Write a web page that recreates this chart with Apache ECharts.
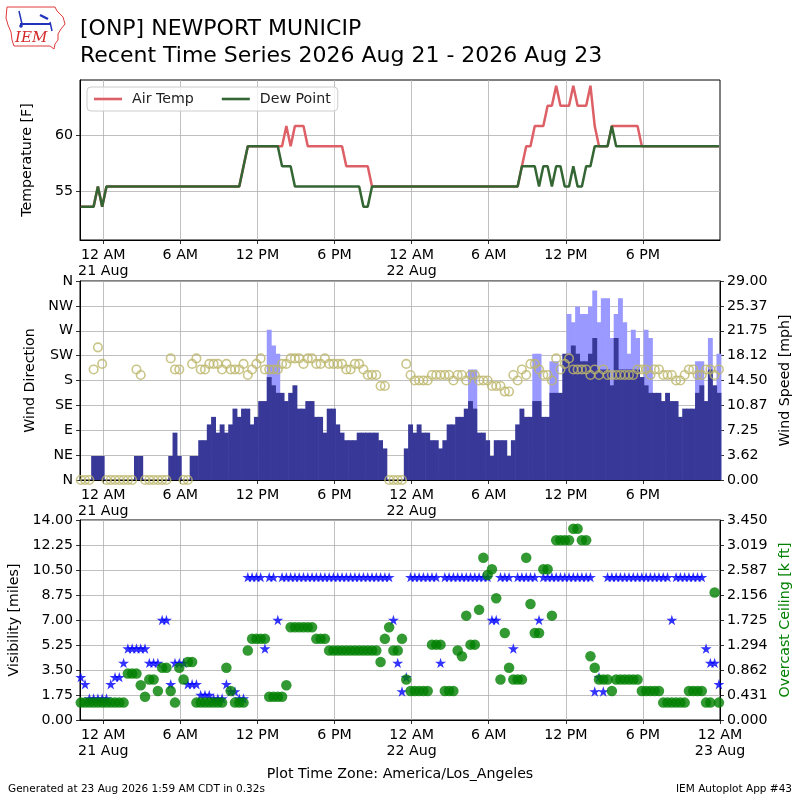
<!DOCTYPE html>
<html>
<head>
<meta charset="utf-8">
<script src="https://cdn.jsdelivr.net/npm/echarts@6/dist/echarts.min.js"></script>
<style>
  html, body { margin: 0; padding: 0; background: #fff; }
  #chart { width: 800px; height: 800px; }
</style>
</head>
<body>
<div id="chart"></div>
<script>
// obs every 20 minutes starting 20 Aug 22:15 (hours relative to 21 Aug 00:00)
const obsStart = -1.75;
const obsStep = 1 / 3;

const tempF = [
  53.6, 53.6, 53.6, 53.6, 55.4, 53.6, 55.4, 55.4, 55.4, 55.4,
  55.4, 55.4, 55.4, 55.4, 55.4, 55.4, 55.4, 55.4, 55.4, 55.4,
  55.4, 55.4, 55.4, 55.4, 55.4, 55.4, 55.4, 55.4, 55.4, 55.4,
  55.4, 55.4, 55.4, 55.4, 55.4, 55.4, 55.4, 55.4, 57.2, 59,
  59, 59, 59, 59, 59, 59, 59, 59, 60.8, 59,
  60.8, 60.8, 60.8, 59, 59, 59, 59, 59, 59, 59,
  59, 59, 57.2, 57.2, 57.2, 57.2, 57.2, 57.2, 55.4, 55.4,
  55.4, 55.4, 55.4, 55.4, 55.4, 55.4, 55.4, 55.4, 55.4, 55.4,
  55.4, 55.4, 55.4, 55.4, 55.4, 55.4, 55.4, 55.4, 55.4, 55.4,
  55.4, 55.4, 55.4, 55.4, 55.4, 55.4, 55.4, 55.4, 55.4, 55.4,
  55.4, 55.4, 55.4, 57.2, 59, 59, 60.8, 60.8, 60.8, 62.6,
  62.6, 64.4, 62.6, 62.6, 62.6, 64.4, 62.6, 62.6, 62.6, 64.4,
  60.8, 59, 59, 59, 60.8, 60.8, 60.8, 60.8, 60.8, 60.8,
  60.8, 59, 59, 59, 59, 59, 59, 59, 59, 59,
  59, 59, 59, 59, 59, 59, 59, 59, 59, 59
];
const dewF = [
  53.6, 53.6, 53.6, 53.6, 55.4, 53.6, 55.4, 55.4, 55.4, 55.4,
  55.4, 55.4, 55.4, 55.4, 55.4, 55.4, 55.4, 55.4, 55.4, 55.4,
  55.4, 55.4, 55.4, 55.4, 55.4, 55.4, 55.4, 55.4, 55.4, 55.4,
  55.4, 55.4, 55.4, 55.4, 55.4, 55.4, 55.4, 55.4, 57.2, 59,
  59, 59, 59, 59, 59, 59, 59, 57.2, 57.2, 57.2,
  55.4, 55.4, 55.4, 55.4, 55.4, 55.4, 55.4, 55.4, 55.4, 55.4,
  55.4, 55.4, 55.4, 55.4, 55.4, 55.4, 53.6, 53.6, 55.4, 55.4,
  55.4, 55.4, 55.4, 55.4, 55.4, 55.4, 55.4, 55.4, 55.4, 55.4,
  55.4, 55.4, 55.4, 55.4, 55.4, 55.4, 55.4, 55.4, 55.4, 55.4,
  55.4, 55.4, 55.4, 55.4, 55.4, 55.4, 55.4, 55.4, 55.4, 55.4,
  55.4, 55.4, 55.4, 57.2, 57.2, 57.2, 57.2, 55.4, 57.2, 57.2,
  55.4, 57.2, 57.2, 55.4, 55.4, 57.2, 55.4, 55.4, 57.2, 57.2,
  59, 59, 59, 59, 60.8, 59, 59, 59, 59, 59,
  59, 59, 59, 59, 59, 59, 59, 59, 59, 59,
  59, 59, 59, 59, 59, 59, 59, 59, 59, 59
];
const windDir = [
  0, 0, 0, 200, 240, 210, 0, 0, 0, 0,
  0, 0, 0, 200, 190, 0, 0, 0, 0, 0,
  0, 220, 200, 200, 0, 0, 210, 220, 200, 200,
  210, 210, 210, 200, 210, 200, 200, 200, 210, 190,
  200, 210, 220, 200, 200, 200, 200, 210, 210, 220,
  220, 220, 210, 220, 220, 210, 210, 220, 210, 210,
  210, 210, 200, 200, 210, 210, 200, 190, 190, 190,
  170, 170, 0, 0, 0, 0, 210, 190, 180, 180,
  180, 180, 190, 190, 190, 190, 190, 180, 190, 190,
  180, 190, 190, 180, 180, 180, 170, 170, 170, 160,
  160, 190, 180, 200, 190, 210, 210, 200, 190, 190,
  180, 220, 200, 210, 220, 200, 200, 200, 200, 190,
  200, 190, 200, 190, 190, 190, 190, 190, 190, 190,
  200, 200, 200, 190, 200, 200, 190, 190, 190, 180,
  180, 190, 200, 200, 190, 190, 200, 200, 190, 200
];
const windMph = [
  0, 0, 0, 3.5, 3.5, 3.5, 0, 0, 0, 0,
  0, 0, 0, 3.5, 3.5, 0, 0, 0, 0, 0,
  0, 3.5, 6.9, 3.5, 0, 0, 3.5, 3.5, 5.8, 5.8,
  8.1, 9.2, 6.9, 8.1, 6.9, 8.1, 10.4, 9.2, 10.4, 10.4,
  8.1, 9.2, 11.5, 11.5, 15.0, 13.8, 12.7, 12.7, 11.5, 12.7,
  13.8, 10.4, 10.4, 11.5, 11.5, 9.2, 9.2, 6.9, 10.4, 10.4,
  8.1, 6.9, 5.8, 5.8, 5.8, 6.9, 6.9, 6.9, 6.9, 6.9,
  5.8, 4.6, 0, 0, 0, 0, 4.6, 8.1, 6.9, 8.1,
  6.9, 6.9, 5.8, 5.8, 4.6, 5.8, 8.1, 8.1, 9.2, 9.2,
  10.4, 11.5, 10.4, 6.9, 6.9, 5.8, 3.5, 5.8, 5.8, 5.8,
  3.5, 5.8, 8.1, 10.4, 9.2, 9.2, 11.5, 11.5, 9.2, 9.2,
  12.7, 12.7, 12.7, 18.4, 18.4, 19.6, 18.4, 17.3, 17.3, 18.4,
  20.7, 16.1, 16.1, 16.1, 13.8, 20.7, 16.1, 16.1, 16.1, 16.1,
  16.1, 15.0, 13.8, 12.7, 12.7, 12.7, 11.5, 12.7, 11.5, 11.5,
  9.2, 10.4, 10.4, 10.4, 12.7, 13.8, 11.5, 16.1, 13.8, 12.7
];
const gustMph = [
  null, null, null, null, null, null, null, null, null, null,
  null, null, null, null, null, null, null, null, null, null,
  null, null, null, null, null, null, null, null, null, null,
  null, null, null, null, null, null, null, null, null, null,
  null, null, null, null, 21.9, 19.6, 18.4, null, null, null,
  null, null, null, null, null, null, null, null, null, null,
  null, null, null, null, null, null, null, null, null, null,
  null, null, null, null, null, null, null, null, null, null,
  null, null, null, null, null, null, null, null, null, null,
  null, 16.1, 16.1, null, null, null, null, null, null, null,
  null, null, null, null, null, null, 18.4, 18.4, null, null,
  17.3, 17.3, null, null, 24.2, 23.0, 25.3, 24.2, 24.2, 25.3,
  27.6, 23.0, 26.5, 26.5, 20.7, 24.2, 26.5, 23.0, 18.4, 21.9,
  20.7, null, 21.9, 20.7, null, null, null, null, null, null,
  null, null, null, null, 17.3, 17.3, null, 20.7, null, 18.4
];
const visMiles = [
  3, 2.5, 1.5, 1.5, 1.5, 1.5, 1.5, 2.5, 3, 3,
  4, 5, 5, 5, 5, 5, 4, 4, 4, 7,
  7, 2.5, 4, 4, 4, 2.5, 2.5, 2.5, 1.75, 1.75,
  1.75, 1.5, 1.5, 1.5, 2.5, 2, 2, 1.5, 1.5, 10,
  10, 10, 10, 5, 10, 10, 7, 10, 10, 10,
  10, 10, 10, 10, 10, 10, 10, 10, 10, 10,
  10, 10, 10, 10, 10, 10, 10, 10, 10, 10,
  10, 10, 10, 7, 4, 2, 3, 10, 10, 10,
  10, 10, 10, 10, 4, 10, 10, 10, 10, 10,
  10, 10, 10, 10, 10, 10, 7, 7, 10, 10,
  10, 5, 10, 10, 10, 10, 10, 7, 10, 10,
  10, 10, 10, 10, 10, 10, 10, 10, 10, 10,
  2, 3, 2, 10, 10, 10, 10, 10, 10, 10,
  10, 10, 10, 10, 10, 10, 10, 10, 7, 10,
  10, 10, 10, 10, 10, 10, 5, 4, 4, 2.5
];
const ceilingKft = [
  0.3, 0.3, 0.3, 0.3, 0.3, 0.3, 0.3, 0.3, 0.3, 0.3,
  0.3, 0.8, 0.8, 0.8, 0.6, 0.4, 0.7, 0.7, 0.5, 0.9,
  0.9, 0.5, 0.3, 0.9, 0.7, 1.0, 1.0, 0.3, 0.3, 0.3,
  0.3, 0.3, 0.3, 0.3, 0.9, 0.5, 0.3, 0.3, 0.3, 1.2,
  1.4, 1.4, 1.4, 1.4, 0.4, 0.4, 0.4, 0.4, 0.6, 1.6,
  1.6, 1.6, 1.6, 1.6, 1.6, 1.4, 1.4, 1.4, 1.2, 1.2,
  1.2, 1.2, 1.2, 1.2, 1.2, 1.2, 1.2, 1.2, 1.2, 1.2,
  1.0, 1.4, 1.6, 1.2, 1.2, 1.4, 0.7, 0.5, 0.5, 0.5,
  0.5, 0.5, 1.3, 1.3, 1.3, 0.5, 0.5, 0.5, 1.2, 1.1,
  1.8, 1.3, 1.3, 1.9, 2.8, 2.5, 2.6, 2.1, 0.7, 1.5,
  0.9, 0.7, 0.7, 0.7, 2.8, 2.0, 1.5, 1.5, 2.6, 2.6,
  1.8, 3.1, 3.1, 3.1, 3.1, 3.3, 3.3, 3.1, 3.1, 1.1,
  0.9, 0.7, 0.7, 0.7, 0.5, 0.7, 0.7, 0.7, 0.7, 0.7,
  0.7, 0.5, 0.5, 0.5, 0.5, 0.5, 0.3, 0.3, 0.3, 0.3,
  0.3, 0.3, 0.5, 0.5, 0.5, 0.5, 0.3, 0.3, 2.2, 0.3
];

const hourTicks = [0, 6, 12, 18, 24, 30, 36, 42, 48];
const hourLabels = ['12 AM\n21 Aug', '6 AM', '12 PM', '6 PM', '12 AM\n22 Aug', '6 AM', '12 PM', '6 PM', '12 AM\n23 Aug'];
const tempTicks = [55, 60];
const dirLabels = ['N', 'NE', 'E', 'SE', 'S', 'SW', 'W', 'NW', 'N'];
const speedLabels = ['0.00', '3.62', '7.25', '10.87', '14.50', '18.12', '21.75', '25.37', '29.00'];
const ceilingLabels = ['0.000', '0.431', '0.862', '1.294', '1.725', '2.156', '2.587', '3.019', '3.450'];

const obsHours = [];
for (let i = 0; i < windMph.length; i++) obsHours.push(obsStart + i * obsStep);
const pair = vals => vals.map((v, i) => [obsHours[i], v == null ? '-' : v]);

const chart = echarts.init(document.getElementById('chart'));

const font = 'DejaVu Sans';
const fs = 14.2;
const gridLine = { show: true, lineStyle: { color: '#b0b0b0', width: 0.8 } };
const tickStyle = { show: true, inside: false, length: 4, lineStyle: { color: '#000', width: 0.8 } };
const blackLine = { show: true, onZero: false, lineStyle: { color: '#000', width: 1 } };
const labelStyle = { color: '#000', fontSize: fs, fontFamily: font };
const nameStyle = { color: '#000', fontSize: fs, fontFamily: font };

const hourFmt = v => hourLabels[hourTicks.indexOf(Math.round(v))] || '';

function timeAxis(gridIndex, ticks) {
  return {
    type: 'value', gridIndex: gridIndex, min: -1.81, max: 48.0,
    axisLine: blackLine,
    axisTick: Object.assign({}, tickStyle, { customValues: ticks }),
    axisLabel: Object.assign({}, labelStyle, { customValues: ticks, formatter: hourFmt, margin: 7, lineHeight: 16 }),
    splitLine: gridLine
  };
}

const grids = [
  { left: 80, top: 80, width: 640, height: 160 },
  { left: 80, top: 281, width: 640, height: 199 },
  { left: 80, top: 520, width: 640, height: 200 }
].map(g => Object.assign(g, { show: true, borderColor: '#000', borderWidth: 1, containLabel: false, outerBoundsMode: 'none' }));

const starPath = 'path://M50,0 L61,35 L98,35 L68,57 L79,91 L50,70 L21,91 L32,57 L2,35 L39,35 Z';

const options = {
  animation: false,
  textStyle: { fontFamily: font },
  grid: grids,
  legend: {
    data: ['Air Temp', 'Dew Point'],
    left: 87, top: 87,
    orient: 'horizontal',
    icon: 'rect',
    itemWidth: 28, itemHeight: 2.6, itemGap: 28,
    padding: [5, 7],
    borderColor: '#cccccc', borderWidth: 1, borderRadius: 4,
    backgroundColor: 'rgba(255,255,255,0.8)',
    textStyle: { color: '#222', fontSize: fs, fontFamily: font, padding: [0, 0, 0, 5] }
  },
  xAxis: [
    timeAxis(0, hourTicks.slice(0, 8)),
    timeAxis(1, hourTicks.slice(0, 8)),
    timeAxis(2, hourTicks)
  ],
  yAxis: [
    {
      type: 'value', gridIndex: 0, min: 50.62, max: 64.91,
      name: 'Temperature [F]', nameLocation: 'middle', nameGap: 46, nameTextStyle: nameStyle,
      axisLine: blackLine,
      axisTick: Object.assign({}, tickStyle, { customValues: tempTicks }),
      axisLabel: Object.assign({}, labelStyle, { customValues: tempTicks, margin: 7 }),
      splitLine: gridLine
    },
    {
      type: 'value', gridIndex: 1, min: 0, max: 360, interval: 45,
      name: 'Wind Direction', nameLocation: 'middle', nameGap: 40, nameTextStyle: nameStyle,
      axisLine: blackLine, axisTick: tickStyle,
      axisLabel: Object.assign({}, labelStyle, { margin: 7, formatter: v => dirLabels[Math.round(v / 45)] }),
      splitLine: gridLine
    },
    {
      type: 'value', gridIndex: 1, position: 'right', min: 0, max: 29, interval: 3.625,
      name: 'Wind Speed [mph]', nameLocation: 'middle', nameGap: 55, nameTextStyle: nameStyle,
      axisLine: blackLine, axisTick: tickStyle,
      axisLabel: Object.assign({}, labelStyle, { margin: 7, formatter: v => speedLabels[Math.round(v / 3.625)] }),
      splitLine: { show: false }
    },
    {
      type: 'value', gridIndex: 2, min: 0, max: 14, interval: 1.75,
      name: 'Visibility [miles]', nameLocation: 'middle', nameGap: 55, nameTextStyle: nameStyle,
      axisLine: blackLine, axisTick: tickStyle,
      axisLabel: Object.assign({}, labelStyle, { margin: 7, formatter: v => v.toFixed(2) }),
      splitLine: gridLine
    },
    {
      type: 'value', gridIndex: 2, position: 'right', min: 0, max: 3.45, interval: 0.43125,
      name: 'Overcast Ceiling [k ft]', nameLocation: 'middle', nameGap: 55,
      nameTextStyle: Object.assign({}, nameStyle, { color: '#008000' }),
      axisLine: blackLine, axisTick: tickStyle,
      axisLabel: Object.assign({}, labelStyle, { margin: 7, formatter: v => ceilingLabels[Math.round(v / 0.43125)] }),
      splitLine: { show: false }
    }
  ],
  series: [
    {
      name: 'Air Temp', type: 'line', xAxisIndex: 0, yAxisIndex: 0,
      data: pair(tempF), symbol: 'none', z: 3,
      lineStyle: { color: '#dd6066', width: 2.5 }, itemStyle: { color: '#dd6066' }
    },
    {
      name: 'Dew Point', type: 'line', xAxisIndex: 0, yAxisIndex: 0,
      data: pair(dewF), symbol: 'none', z: 4,
      lineStyle: { color: '#346634', width: 2.5 }, itemStyle: { color: '#346634' }
    },
    {
      name: 'Gust', type: 'bar', xAxisIndex: 1, yAxisIndex: 2,
      data: pair(gustMph), barWidth: 4.9, barGap: '-100%', z: 2,
      itemStyle: { color: '#9999ff' }
    },
    {
      name: 'Wind', type: 'bar', xAxisIndex: 1, yAxisIndex: 2,
      data: pair(windMph), barWidth: 4.9, barGap: '-100%', z: 3,
      itemStyle: { color: '#383898' }
    },
    {
      name: 'Direction', type: 'scatter', xAxisIndex: 1, yAxisIndex: 1,
      data: pair(windDir), symbol: 'circle', symbolSize: 8.5, z: 5,
      itemStyle: { color: 'rgba(0,0,0,0)', borderColor: '#bdb76b', borderWidth: 1.6 }
    },
    {
      name: 'Visibility', type: 'scatter', xAxisIndex: 2, yAxisIndex: 3,
      data: pair(visMiles), symbol: starPath, symbolKeepAspect: true, symbolSize: 11, z: 3,
      itemStyle: { color: '#0000ff' }
    },
    {
      name: 'Ceiling', type: 'scatter', xAxisIndex: 2, yAxisIndex: 4,
      data: pair(ceilingKft), symbol: 'circle', symbolSize: 10.5, z: 4,
      itemStyle: { color: '#008000' }
    }
  ],
  graphic: [
    // IEM logo
    {
      type: 'polyline', silent: true,
      shape: { points: [[7, 7], [55, 7], [57, 11], [63, 17], [65, 24], [61, 29], [58, 34], [58, 40], [55, 44], [54, 49], [50, 46], [14, 46], [12, 40], [11, 32], [8, 25], [6, 18], [7, 7]] },
      style: { stroke: '#e03a3a', lineWidth: 1, fill: null }
    },
    { type: 'line', shape: { x1: 20, y1: 24, x2: 50, y2: 24 }, style: { stroke: '#2233bb', lineWidth: 2 } },
    { type: 'line', shape: { x1: 19, y1: 11, x2: 22, y2: 24 }, style: { stroke: '#2233bb', lineWidth: 1.5 } },
    { type: 'line', shape: { x1: 40, y1: 15, x2: 48, y2: 19 }, style: { stroke: '#2233bb', lineWidth: 2.5 } },
    { type: 'line', shape: { x1: 50, y1: 22, x2: 52, y2: 31 }, style: { stroke: '#2233bb', lineWidth: 1.5 } },
    { type: 'circle', shape: { cx: 21, cy: 26, r: 1.8 }, style: { fill: '#2233bb' } },
    {
      type: 'text', left: 15, top: 31,
      style: { text: 'IEM', fill: '#d42a2a', font: 'italic 15px "DejaVu Serif"' }
    },
    // titles
    {
      type: 'text', x: 80, y: 29,
      style: { text: '[ONP] NEWPORT MUNICIP', fill: '#000', font: '22px "DejaVu Sans"', verticalAlign: 'middle' }
    },
    {
      type: 'text', x: 80, y: 56,
      style: { text: 'Recent Time Series 2026 Aug 21 - 2026 Aug 23', fill: '#000', font: '22px "DejaVu Sans"', verticalAlign: 'middle' }
    },
    // footer
    {
      type: 'text', x: 400, y: 774,
      style: { text: 'Plot Time Zone: America/Los_Angeles', fill: '#000', font: fs + 'px "DejaVu Sans"', align: 'center', verticalAlign: 'middle' }
    },
    {
      type: 'text', x: 8, y: 789,
      style: { text: 'Generated at 23 Aug 2026 1:59 AM CDT in 0.32s', fill: '#000', font: '10.5px "DejaVu Sans"', verticalAlign: 'middle' }
    },
    {
      type: 'text', x: 792, y: 789,
      style: { text: 'IEM Autoplot App #43', fill: '#000', font: '10.5px "DejaVu Sans"', align: 'right', verticalAlign: 'middle' }
    }
  ]
};

chart.setOption(options);
</script>
</body>
</html>
